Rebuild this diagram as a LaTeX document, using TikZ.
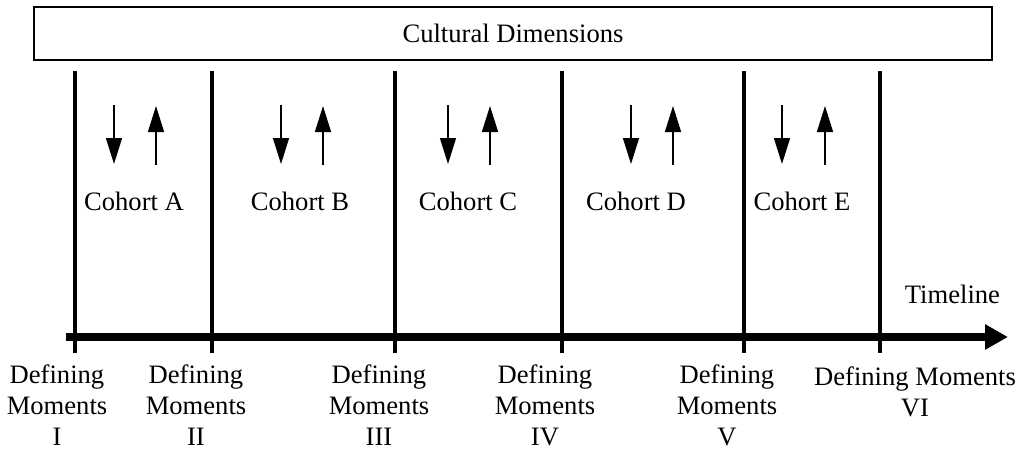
\documentclass[tikz,border=0pt]{standalone}
\usepackage{fontspec}
\setmainfont{Liberation Serif}
\usetikzlibrary{arrows.meta}
\begin{document}
\begin{tikzpicture}[x=0.5pt,y=-0.5pt,
  every node/.style={font=\fontsize{13.3}{15.5}\selectfont, inner sep=0pt, outer sep=0pt},
  divider/.style={line width=2pt},
  smallarrow/.style={line width=0.75pt, -{Triangle[length=13pt,width=8pt]}},
  timearrow/.style={line width=4pt, -{Triangle[length=11.5pt,width=12pt]}},
  momentlabel/.style={align=center, anchor=base},
  cohortlabel/.style={anchor=base}]
\useasboundingbox (0,0) rectangle (1019,450);
% top box
\node[draw, line width=1pt, minimum width=479pt, minimum height=26.5pt, anchor=north west] (cult) at (34,7) {};
\node (culttext) at (cult.center) {Cultural Dimensions};
% timeline
\coordinate (tlstart) at (66,337);
\coordinate (tlend) at (1008,337);
\draw[timearrow] (tlstart) -- (tlend);
\node[anchor=base east] (timeline) at (1000,303) {Timeline};
% dividers
\foreach \n/\x in {1/75,2/212,3/395,4/562,5/744,6/880}{
  \coordinate (top\n) at (\x,71);
  \coordinate (bot\n) at (\x,353);
  \draw[divider] (top\n) -- (bot\n);
}
% cohorts
\foreach \n/\d/\u/\t/\l in {a/114/156/134/A,b/281/323/300/B,c/448/490/468/C,d/631/673/636/D,e/782/825/802/E}{
  \coordinate (ds\n) at (\d,105);
  \coordinate (de\n) at (\d,164);
  \coordinate (us\n) at (\u,165);
  \coordinate (ue\n) at (\u,106);
  \draw[smallarrow] (ds\n) -- (de\n);
  \draw[smallarrow] (us\n) -- (ue\n);
  \node[cohortlabel] (coh\n) at (\t,210) {Cohort \l};
}
% defining moments
\node[momentlabel] (m1) at (57,445) {Defining\\Moments\\I};
\node[momentlabel] (m2) at (196,445) {Defining\\Moments\\II};
\node[momentlabel] (m3) at (379,445) {Defining\\Moments\\III};
\node[momentlabel] (m4) at (545,445) {Defining\\Moments\\IV};
\node[momentlabel] (m5) at (727,445) {Defining\\Moments\\V};
\node[momentlabel] (m6) at (915,416) {Defining Moments\\VI};
\end{tikzpicture}
\end{document}
